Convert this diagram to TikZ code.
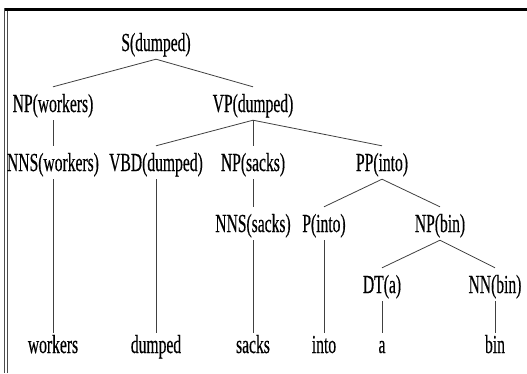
\documentclass[tikz,border=0pt]{standalone}
\usepackage{fontspec}
\newfontfamily\narrowserif[FakeStretch=0.6,FakeBold=0.4]{Liberation Serif}
\begin{document}
\begin{tikzpicture}[x=1pt,y=-1pt,
  lbl/.style={anchor=base,inner sep=0pt,text height=25pt,text depth=8pt,
    font=\narrowserif\fontsize{26}{26}\selectfont,text=black},
  wrd/.style={lbl,text height=20pt},
  edge/.style={draw=black!75,line width=0.8pt}]
\useasboundingbox (0,0) rectangle (527,373);
% frame
\draw[line width=3pt,black] (4,9.5) -- (527,9.5);
\draw[line width=0.9pt,black!70] (4.5,8) -- (4.5,373);
\draw[line width=0.9pt,black!70] (7,11) -- (7,373);
% nodes
\node[lbl] (S) at (156,51) {S(dumped)};
\node[lbl] (npw) at (53,112) {NP(workers)};
\node[lbl] (vp) at (253,112) {VP(dumped)};
\node[lbl] (nnsw) at (53,171) {NNS(workers)};
\node[lbl] (vbd) at (156,171) {VBD(dumped)};
\node[lbl] (nps) at (253,171) {NP(sacks)};
\node[lbl] (pp) at (382,171) {PP(into)};
\node[lbl] (nnss) at (253,232) {NNS(sacks)};
\node[lbl] (pin) at (324,232) {P(into)};
\node[lbl] (npb) at (440,232) {NP(bin)};
\node[lbl] (dt) at (382,293) {DT(a)};
\node[lbl] (nn) at (495,293) {NN(bin)};
\node[wrd] (w1) at (53,353) {workers};
\node[wrd] (w2) at (156,353) {dumped};
\node[wrd] (w3) at (253,353) {sacks};
\node[wrd] (w4) at (324,353) {into};
\node[wrd] (w5) at (382,353) {a};
\node[wrd] (w6) at (495,353) {bin};
% edges
\draw[edge] (S.south) -- (npw.north);
\draw[edge] (S.south) -- (vp.north);
\draw[edge] (npw.south) -- (nnsw.north);
\draw[edge] (vp.south) -- (vbd.north);
\draw[edge] (vp.south) -- (nps.north);
\draw[edge] (vp.south) -- (pp.north);
\draw[edge] (nnsw.south) -- (w1.north);
\draw[edge] (vbd.south) -- (w2.north);
\draw[edge] (nps.south) -- (nnss.north);
\draw[edge] (pp.south) -- (pin.north);
\draw[edge] (pp.south) -- (npb.north);
\draw[edge] (nnss.south) -- (w3.north);
\draw[edge] (pin.south) -- (w4.north);
\draw[edge] (npb.south) -- (dt.north);
\draw[edge] (npb.south) -- (nn.north);
\draw[edge] (dt.south) -- (w5.north);
\draw[edge] (nn.south) -- (w6.north);
\end{tikzpicture}
\end{document}
